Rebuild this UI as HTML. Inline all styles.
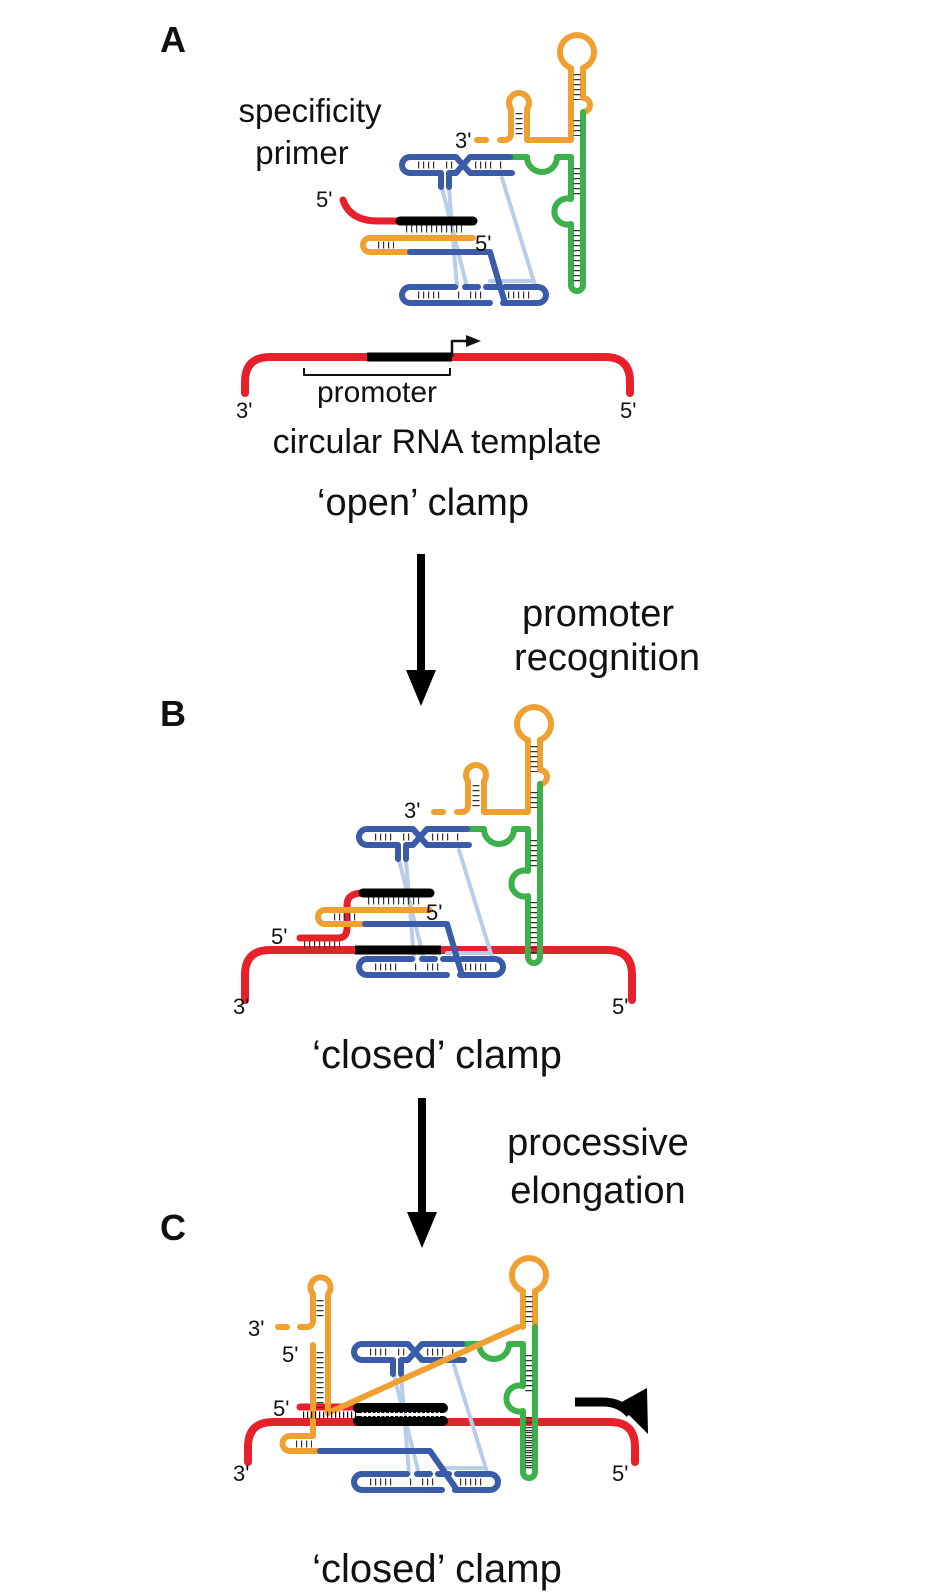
<!DOCTYPE html>
<html><head><meta charset="utf-8"><style>
html,body{margin:0;padding:0;background:#fff;}
svg{display:block;}
text{font-family:"Liberation Sans",Arial,sans-serif;fill:#111;}
</style></head><body>
<svg width="952" height="1596" viewBox="0 0 952 1596" xmlns="http://www.w3.org/2000/svg">
<defs>
<g id="core" fill="none" stroke-linecap="round" stroke-linejoin="round">
  <g stroke="#b9cde8" stroke-width="4">
    <path d="M442,188 L467,287"/>
    <path d="M449,188 L457,287"/>
    <path d="M502,178 L535,285"/>
    <path d="M490,281 H533"/>
  </g>
  <path d="M571,285 V224 A13,13 0 1 1 571,199 V157 H557 A15,15 0 0 1 527,157 H510" stroke="#3cb04a" stroke-width="6"/>
  <g stroke="#3a5ba8" stroke-width="6">
    <path d="M512,173 H470 L456,157 H410 A8,8 0 0 0 410,173 H441 V187"/>
    <path d="M449,187 V173 H456 L470,157 H510"/>
    <path d="M410,287 H455"/>
    <path d="M465,287 H478"/><path d="M486,287 H497"/>
    <path d="M410,287 A8,8 0 0 0 410,303 H490"/>
    <path d="M505,287 H538 A8,8 0 0 1 538,303 H503"/>
  </g>
  <g stroke="#333" stroke-width="7" stroke-dasharray="1.2,3.8" stroke-linecap="butt">
    <path d="M418,165 H438"/><path d="M446,165 H453"/><path d="M475,165 H493"/><path d="M500,165 H502"/>
    <path d="M418,295 H442"/><path d="M458,295 H461"/><path d="M470,295 H484"/><path d="M508,295 H531"/>
  </g>
  <g stroke="#333" stroke-width="7" stroke-dasharray="1.2,3.8" stroke-linecap="butt">
    <path d="M577,168 V196"/><path d="M577,230 V282"/>
  </g>
</g>
<g id="orangeTop" fill="none" stroke-linecap="round" stroke-linejoin="round">
  <path d="M500,140 H505 A6,6 0 0 0 511,134 V109 A10,10 0 1 1 527,109 V140 H571 V68 A17,17 0 1 1 583,68 V98 A7,7 0 0 1 583,112" stroke="#f0a030" stroke-width="6"/>
  <path d="M477,140 H486" stroke="#f0a030" stroke-width="6"/>
  <path d="M583,112 V285 A6,6 0 0 1 571,285" stroke="#3cb04a" stroke-width="6"/>
  <g stroke="#333" stroke-width="7" stroke-dasharray="1.2,3.8" stroke-linecap="butt">
    <path d="M577,74 V100"/><path d="M577,120 V136"/><path d="M519,113 V136"/>
  </g>
</g>
</defs>

<!-- ===== Panel A ===== -->
<text x="160" y="52" font-size="36" font-weight="bold">A</text>
<text x="310" y="122" font-size="33" text-anchor="middle">specificity</text>
<text x="302" y="164" font-size="33" text-anchor="middle">primer</text>
<use href="#core"/>
<use href="#orangeTop"/>
<g fill="none" stroke-linecap="round" stroke-linejoin="round">
  <path d="M343,200 Q350,221 378,221 H400" stroke="#e8202a" stroke-width="7"/>
  <path d="M400,221 H473" stroke="#000" stroke-width="9"/>
  <path d="M473,238 H370 A7,7 0 0 0 370,252 H410" stroke="#f0a030" stroke-width="6"/>
  <path d="M410,252 H490 L505,303" stroke="#3a5ba8" stroke-width="6"/>
  <g stroke="#333" stroke-width="7" stroke-dasharray="1.2,3.8" stroke-linecap="butt">
    <path d="M406,229 H462"/><path d="M378,245 H394"/>
  </g>
  <path d="M245,393 V382 Q245,357 270,357 H605 Q630,357 630,382 V393" stroke="#e8202a" stroke-width="8"/>
  <path d="M367,357 H452" stroke="#000" stroke-width="9" stroke-linecap="butt"/>
  <path d="M304,368 V375 H450 V368" stroke="#111" stroke-width="2" stroke-linecap="butt"/>
  <path d="M452,357 V341 H468" stroke="#111" stroke-width="2.5" stroke-linecap="butt"/>
</g>
<polygon points="466,335 481,341 466,347" fill="#111"/>
<text x="455" y="148" font-size="22">3'</text>
<text x="316" y="207" font-size="22">5'</text>
<text x="475" y="251" font-size="22">5'</text>
<text x="236" y="418" font-size="22">3'</text>
<text x="620" y="418" font-size="22">5'</text>
<text x="377" y="402" font-size="30" text-anchor="middle">promoter</text>
<text x="437" y="453" font-size="34" text-anchor="middle">circular RNA template</text>
<text x="423" y="515" font-size="38" text-anchor="middle">‘open’ clamp</text>

<rect x="417" y="554" width="8" height="120" fill="#000"/>
<polygon points="406,670 436,670 421,706" fill="#000"/>
<text x="598" y="626" font-size="38" text-anchor="middle">promoter</text>
<text x="607" y="670" font-size="38" text-anchor="middle">recognition</text>

<!-- ===== Panel B ===== -->
<text x="160" y="726" font-size="36" font-weight="bold">B</text>
<g fill="none" stroke-linecap="round" stroke-linejoin="round">
  <path d="M245,1000 V975 Q245,950 270,950 H607 Q632,950 632,975 V1000" stroke="#e8202a" stroke-width="8"/>
</g>
<g transform="translate(-43,672)"><use href="#core"/><use href="#orangeTop"/></g>
<g fill="none" stroke-linecap="round" stroke-linejoin="round">
  <path d="M355,950 H441" stroke="#000" stroke-width="9" stroke-linecap="butt"/>
  <path d="M300,938 H338 Q347,938 347,928 V905 Q347,893 363,893" stroke="#e8202a" stroke-width="7"/>
  <path d="M363,893 H430" stroke="#000" stroke-width="9"/>
  <path d="M430,910 H325 A7,7 0 0 0 325,924 H365" stroke="#f0a030" stroke-width="6"/>
  <path d="M365,924 H447 L462,975" stroke="#3a5ba8" stroke-width="6"/>
  <g stroke="#333" stroke-width="7" stroke-dasharray="1.2,3.8" stroke-linecap="butt">
    <path d="M368,901 H423"/><path d="M334,917 H356"/><path d="M304,945 H340"/>
  </g>
</g>
<text x="404" y="818" font-size="22">3'</text>
<text x="426" y="920" font-size="22">5'</text>
<text x="271" y="944" font-size="22">5'</text>
<text x="233" y="1014" font-size="22">3'</text>
<text x="612" y="1014" font-size="22">5'</text>
<text x="437" y="1068" font-size="40" text-anchor="middle">‘closed’ clamp</text>

<rect x="418" y="1098" width="8" height="118" fill="#000"/>
<polygon points="407,1212 437,1212 422,1248" fill="#000"/>
<text x="598" y="1155" font-size="38" text-anchor="middle">processive</text>
<text x="598" y="1203" font-size="38" text-anchor="middle">elongation</text>

<!-- ===== Panel C ===== -->
<text x="160" y="1240" font-size="36" font-weight="bold">C</text>
<g fill="none" stroke-linecap="round" stroke-linejoin="round">
  <path d="M248,1462 V1447 Q248,1422 273,1422 H610 Q635,1422 635,1447 V1462" stroke="#e8202a" stroke-width="8"/>
</g>
<g transform="translate(-48,1187)"><use href="#core"/></g>
<g fill="none" stroke-linecap="round" stroke-linejoin="round">
  <path d="M523,1327 V1291 A17,17 0 1 1 535,1291 V1327" stroke="#f0a030" stroke-width="6"/>
  <path d="M535,1327 V1472 A6,6 0 0 1 523,1472" stroke="#3cb04a" stroke-width="6"/>
  <path d="M358,1421 H443" stroke="#000" stroke-width="10"/>
  <path d="M300,1407 H358" stroke="#e8202a" stroke-width="7"/>
  <path d="M358,1408 H443" stroke="#000" stroke-width="10"/>
  <path d="M300,1327 H307 A6,6 0 0 0 313,1321 V1294 A10,10 0 1 1 328,1294 V1413 L518,1327" stroke="#f0a030" stroke-width="6"/>
  <path d="M278,1327 H287" stroke="#f0a030" stroke-width="6"/>
  <path d="M313,1345 V1436 H290 A7.5,7.5 0 0 0 290,1451 H320" stroke="#f0a030" stroke-width="6"/>
  <path d="M320,1451 H430 L457,1490" stroke="#3a5ba8" stroke-width="6"/>
  <g stroke="#333" stroke-width="7" stroke-dasharray="1.2,3.8" stroke-linecap="butt">
    <path d="M320,1300 V1320"/><path d="M320,1352 V1408"/>
    <path d="M529,1296 V1322"/><path d="M529,1370 V1395"/><path d="M529,1430 V1470"/>
    <path d="M296,1444 H312"/>
  </g>
  <g stroke="#111" stroke-width="7" stroke-dasharray="1.2,2.8" stroke-linecap="butt">
    <path d="M303,1415 H357"/>
  </g>
  <g stroke="#fff" stroke-width="5" stroke-dasharray="1.5,3" stroke-linecap="butt">
    <path d="M362,1414.5 H440"/>
  </g>
  <path d="M575,1402 H603 Q620,1402 630,1414" stroke="#000" stroke-width="9" stroke-linecap="butt"/>
</g>
<polygon points="618,1404 647,1388 648,1434" fill="#000"/>
<text x="248" y="1336" font-size="22">3'</text>
<text x="282" y="1362" font-size="22">5'</text>
<text x="273" y="1416" font-size="22">5'</text>
<text x="233" y="1481" font-size="22">3'</text>
<text x="612" y="1481" font-size="22">5'</text>
<text x="437" y="1582" font-size="40" text-anchor="middle">‘closed’ clamp</text>
</svg>
</body></html>
